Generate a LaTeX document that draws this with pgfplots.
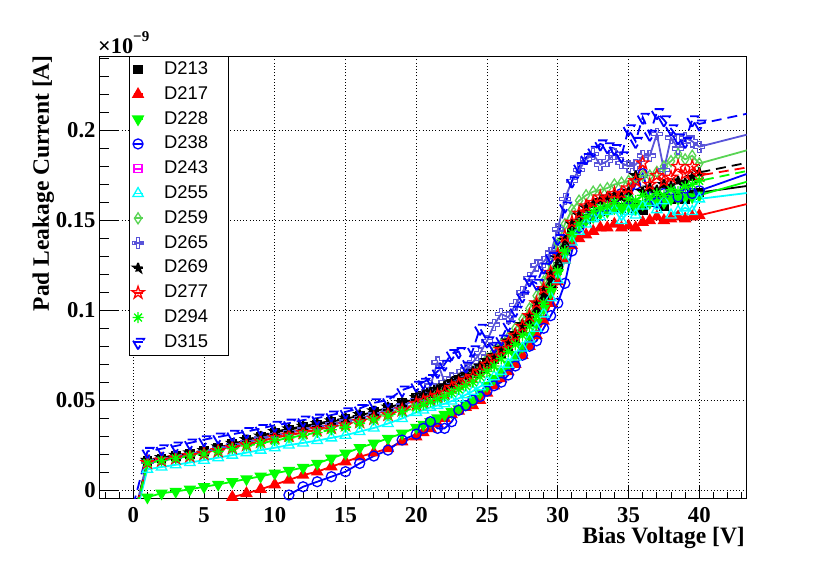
\documentclass[border=0pt]{standalone}
\usepackage{fontspec}
\setmainfont{Liberation Serif}
\newfontfamily\sansleg{Liberation Sans}
\usepackage{pgfplots}
\pgfplotsset{compat=1.18}
\usetikzlibrary{plotmarks}
\definecolor{rgreen}{RGB}{0,255,0}
\definecolor{rblue}{RGB}{0,0,255}
\definecolor{rred}{RGB}{255,0,0}
\definecolor{rmag}{RGB}{255,0,255}
\definecolor{rcyan}{RGB}{0,255,255}
\definecolor{rc8}{RGB}{89,212,84}
\definecolor{rc9}{RGB}{89,84,217}
\pgfdeclareplotmark{ocross}{%
 \pgfpathmoveto{\pgfqpoint{-0.3\pgfplotmarksize}{\pgfplotmarksize}}%
 \pgfpathlineto{\pgfqpoint{0.3\pgfplotmarksize}{\pgfplotmarksize}}%
 \pgfpathlineto{\pgfqpoint{0.3\pgfplotmarksize}{0.3\pgfplotmarksize}}%
 \pgfpathlineto{\pgfqpoint{\pgfplotmarksize}{0.3\pgfplotmarksize}}%
 \pgfpathlineto{\pgfqpoint{\pgfplotmarksize}{-0.3\pgfplotmarksize}}%
 \pgfpathlineto{\pgfqpoint{0.3\pgfplotmarksize}{-0.3\pgfplotmarksize}}%
 \pgfpathlineto{\pgfqpoint{0.3\pgfplotmarksize}{-\pgfplotmarksize}}%
 \pgfpathlineto{\pgfqpoint{-0.3\pgfplotmarksize}{-\pgfplotmarksize}}%
 \pgfpathlineto{\pgfqpoint{-0.3\pgfplotmarksize}{-0.3\pgfplotmarksize}}%
 \pgfpathlineto{\pgfqpoint{-\pgfplotmarksize}{-0.3\pgfplotmarksize}}%
 \pgfpathlineto{\pgfqpoint{-\pgfplotmarksize}{0.3\pgfplotmarksize}}%
 \pgfpathlineto{\pgfqpoint{-0.3\pgfplotmarksize}{0.3\pgfplotmarksize}}%
 \pgfpathclose\pgfusepathqstroke}
\def\starpath{%
 \pgfpathmoveto{\pgfqpoint{0pt}{\pgfplotmarksize}}%
 \pgfpathlineto{\pgfqpoint{-0.2245\pgfplotmarksize}{0.309\pgfplotmarksize}}%
 \pgfpathlineto{\pgfqpoint{-0.9511\pgfplotmarksize}{0.309\pgfplotmarksize}}%
 \pgfpathlineto{\pgfqpoint{-0.3633\pgfplotmarksize}{-0.118\pgfplotmarksize}}%
 \pgfpathlineto{\pgfqpoint{-0.5878\pgfplotmarksize}{-0.809\pgfplotmarksize}}%
 \pgfpathlineto{\pgfqpoint{0pt}{-0.382\pgfplotmarksize}}%
 \pgfpathlineto{\pgfqpoint{0.5878\pgfplotmarksize}{-0.809\pgfplotmarksize}}%
 \pgfpathlineto{\pgfqpoint{0.3633\pgfplotmarksize}{-0.118\pgfplotmarksize}}%
 \pgfpathlineto{\pgfqpoint{0.9511\pgfplotmarksize}{0.309\pgfplotmarksize}}%
 \pgfpathlineto{\pgfqpoint{0.2245\pgfplotmarksize}{0.309\pgfplotmarksize}}%
 \pgfpathclose}
\pgfdeclareplotmark{fstar}{\starpath\pgfusepathqfillstroke}
\pgfdeclareplotmark{ostar}{\starpath\pgfusepathqstroke}
\pgfdeclareplotmark{rast}{%
 \pgfpathmoveto{\pgfqpoint{-\pgfplotmarksize}{0pt}}\pgfpathlineto{\pgfqpoint{\pgfplotmarksize}{0pt}}%
 \pgfpathmoveto{\pgfqpoint{0pt}{-\pgfplotmarksize}}\pgfpathlineto{\pgfqpoint{0pt}{\pgfplotmarksize}}%
 \pgfpathmoveto{\pgfqpoint{-0.707\pgfplotmarksize}{-0.707\pgfplotmarksize}}\pgfpathlineto{\pgfqpoint{0.707\pgfplotmarksize}{0.707\pgfplotmarksize}}%
 \pgfpathmoveto{\pgfqpoint{-0.707\pgfplotmarksize}{0.707\pgfplotmarksize}}\pgfpathlineto{\pgfqpoint{0.707\pgfplotmarksize}{-0.707\pgfplotmarksize}}%
 \pgfusepathqstroke}
\pgfdeclareplotmark{ndiam}{%
 \pgfpathmoveto{\pgfqpoint{0pt}{\pgfplotmarksize}}%
 \pgfpathlineto{\pgfqpoint{0.65\pgfplotmarksize}{0pt}}%
 \pgfpathlineto{\pgfqpoint{0pt}{-\pgfplotmarksize}}%
 \pgfpathlineto{\pgfqpoint{-0.65\pgfplotmarksize}{0pt}}%
 \pgfpathclose\pgfusepathqstroke}
\newcommand\legtxt[1]{\makebox[62bp][l]{#1}}
\pgfplotsset{
 sl/.style={solid, line width=1.8bp},
 dl/.style={dash pattern=on 10bp off 6bp, line width=1.8bp},
 mk/.style={mark options={solid, line width=1.3bp}},
}
\begin{document}
\begin{tikzpicture}
\path[use as bounding box] (-99.3bp,-68.3bp) rectangle (730.7bp,498.7bp);
\begin{axis}[
  scale only axis, width=647.4bp, height=442.7bp,
  xmin=-2.4, xmax=43.35, ymin=-0.00484, ymax=0.2415,
  axis line style={line width=0.9bp},
  tick style={black, line width=0.9bp},
  major tick length=19bp, minor tick length=10bp,
  xtick style={/pgfplots/major tick length=14bp, /pgfplots/minor tick length=7bp},
  tick pos=left,
  xtick={0,5,...,40}, ytick={0,0.05,0.1,0.15,0.2},
  minor xtick={-2,-1,...,43},
  minor ytick={0.01,0.02,...,0.245},
  grid=major,
  major grid style={black, line width=0.7bp, dash pattern=on 0.9bp off 2.3bp},
  scaled y ticks=false,
  /pgf/number format/assume math mode=true,
  xticklabel style={font=\fontsize{22.7bp}{24bp}\selectfont\bfseries, inner sep=0pt, yshift=-8.5bp},
  yticklabel style={font=\fontsize{22.7bp}{24bp}\selectfont\bfseries, inner sep=0pt, xshift=-3.5bp,
     /pgf/number format/fixed, /pgf/number format/precision=2},
  legend style={at={(rel axis cs:0.0459,1)}, anchor=north west, draw=black, line width=0.9bp,
     inner xsep=2.4bp, inner ysep=4.1bp, row sep=6.8bp,
     font=\sansleg\fontsize{18.4bp}{20bp}\selectfont,
     nodes={inner sep=0pt, text height=14bp, text depth=4bp}},
  legend cell align=left,
  legend image code/.code={%
    \draw[#1,mark=none,solid] (-4.5bp,0bp) -- (4.5bp,0bp);
    \draw[#1] plot coordinates {(0bp,0bp)};
    \pgfpathrectangle{\pgfqpoint{-5bp}{-5bp}}{\pgfqpoint{31bp}{10bp}}\pgfusepath{use as bounding box};},
]
% D213
\addplot[black, sl, mk, mark=square*, mark size=4bp, mark options={fill=black}] coordinates {
(0,-0.018)(1,0.016)(2,0.0175)(3,0.0188)(4,0.0202)(5,0.0215)(6,0.0236)(7,0.0256)(8,0.0277)(9,0.0298)(10,0.032)(11,0.0335)(12,0.035)(13,0.0365)(14,0.038)(15,0.0395)(16,0.0415)(17,0.0435)(18,0.0458)(19,0.0482)(20,0.051)
(20.5,0.0525)(21,0.054)(21.5,0.0555)(22,0.057)(22.5,0.059)(23,0.061)(23.5,0.063)(24,0.065)(24.5,0.067)(25,0.070)(25.5,0.073)(26,0.076)(26.5,0.080)(27,0.084)(27.5,0.089)(28,0.094)(28.5,0.100)(29,0.107)(29.5,0.115)(30,0.124)(30.5,0.134)(31,0.143)(31.5,0.148)(32,0.151)(32.5,0.153)(33,0.155)(33.5,0.156)(34,0.158)(34.5,0.157)(35,0.159)(35.5,0.157)(36,0.156)(36.5,0.160)(37,0.161)(37.5,0.158)(38,0.162)(38.5,0.163)(39,0.162)(39.5,0.164)(40,0.1655)(50,0.1764)};
\addlegendentry{\legtxt{D213}}
% D217
\addplot[rred, sl, mk, mark=triangle*, mark size=5.5bp, mark options={fill=rred}] coordinates {
(7,-0.004)(8,-0.0019)(9,0.0004)(10,0.003)(11,0.0056)(12,0.0083)(13,0.0102)(14,0.013)(15,0.0157)(16,0.0185)(17,0.0207)(18,0.0231)(19,0.0269)(20,0.0296)(20.5,0.032)(21,0.0343)(21.5,0.037)(22,0.040)(22.5,0.042)(23,0.044)(23.5,0.046)(24,0.047)(24.5,0.050)(25,0.054)(25.5,0.058)(26,0.062)(26.5,0.066)(27,0.070)(27.5,0.075)(28,0.080)(28.5,0.086)(29,0.094)(29.5,0.104)(30,0.116)(30.5,0.128)(31,0.136)(31.5,0.140)(32,0.142)(32.5,0.144)(33,0.146)(33.5,0.146)(34,0.148)(34.5,0.146)(35,0.147)(35.5,0.146)(36,0.149)(36.5,0.150)(37,0.152)(37.5,0.150)(38,0.151)(38.5,0.152)(39,0.151)(39.5,0.152)(40,0.1528)(50,0.1716)};
\addlegendentry{\legtxt{D217}}
% D228
\addplot[rgreen, sl, mk, mark=triangle*, mark size=5.5bp, mark options={fill=rgreen, rotate=180}] coordinates {
(1,-0.004)(2,-0.0018)(3,-0.0008)(4,0.0004)(5,0.0018)(6,0.0031)(7,0.0046)(8,0.0061)(9,0.0076)(10,0.0093)(11,0.0108)(12,0.0125)(13,0.0148)(14,0.0176)(15,0.0204)(16,0.0235)(17,0.026)(18,0.0287)(19,0.0315)(20,0.0348)(20.5,0.0365)(21,0.038)(21.5,0.040)(22,0.042)(22.5,0.0435)(23,0.045)(23.5,0.0475)(24,0.050)(24.5,0.054)(25,0.058)(25.5,0.062)(26,0.066)(26.5,0.070)(27,0.075)(27.5,0.080)(28,0.086)(28.5,0.093)(29,0.101)(29.5,0.110)(30,0.121)(30.5,0.132)(31,0.141)(31.5,0.147)(32,0.150)(32.5,0.152)(33,0.154)(33.5,0.155)(34,0.157)(34.5,0.156)(35,0.158)(35.5,0.157)(36,0.159)(36.5,0.160)(37,0.161)(37.5,0.160)(38,0.162)(38.5,0.162)(39,0.163)(39.5,0.163)(40,0.164)(50,0.1864)};
\addlegendentry{\legtxt{D228}}
% D238
\addplot[rblue, sl, mk, mark=o, mark size=5bp] coordinates {
(11,-0.0028)(12,0.0018)(13,0.0046)(14,0.0074)(15,0.0102)(16,0.0148)(17,0.0189)(18,0.0222)(19,0.0278)(20,0.0311)(20.5,0.0343)(21,0.038)(21.5,0.0343)(22,0.0343)(22.5,0.038)(23,0.0444)(23.5,0.047)(24,0.050)(24.5,0.052)(25,0.055)(25.5,0.058)(26,0.060)(26.5,0.064)(27,0.069)(27.5,0.075)(28,0.080)(28.5,0.083)(29,0.090)(29.5,0.097)(30,0.104)(30.5,0.115)(31,0.133)(31.5,0.146)(32,0.152)(32.5,0.155)(33,0.157)(33.5,0.158)(34,0.162)(34.5,0.165)(35,0.162)(35.5,0.170)(36,0.176)(36.5,0.163)(37,0.160)(37.5,0.165)(38,0.167)(38.5,0.163)(39,0.168)(39.5,0.165)(40,0.1665)(50,0.1944)};
\addlegendentry{\legtxt{D238}}
% D243 (hidden under the other curves in the reference)
\addlegendimage{rmag, sl, mk, mark=square, mark size=4bp}
\addlegendentry{\legtxt{D243}}
% D255
\addplot[rcyan, sl, mk, mark=triangle, mark size=6bp] coordinates {
(0,-0.02)(1,0.0115)(2,0.0128)(3,0.014)(4,0.0153)(5,0.0166)(6,0.018)(7,0.0194)(8,0.0208)(9,0.0222)(10,0.0235)(11,0.025)(12,0.0262)(13,0.0275)(14,0.029)(15,0.0305)(16,0.0325)(17,0.0345)(18,0.037)(19,0.0398)(20,0.0432)(20.5,0.0445)(21,0.046)(21.5,0.047)(22,0.048)(22.5,0.0495)(23,0.051)(23.5,0.053)(24,0.055)(24.5,0.0575)(25,0.060)(25.5,0.063)(26,0.066)(26.5,0.070)(27,0.074)(27.5,0.079)(28,0.084)(28.5,0.090)(29,0.098)(29.5,0.107)(30,0.117)(30.5,0.128)(31,0.138)(31.5,0.144)(32,0.148)(32.5,0.151)(33,0.152)(33.5,0.155)(34,0.156)(34.5,0.150)(35,0.155)(35.5,0.153)(36,0.158)(36.5,0.160)(37,0.156)(37.5,0.161)(38,0.153)(38.5,0.155)(39,0.157)(39.5,0.155)(40,0.162)(50,0.1717)};
\addlegendentry{\legtxt{D255}}
% D259
\addplot[rc8, sl, mk, mark=ndiam, mark size=5.5bp] coordinates {
(0,-0.018)(1,0.0155)(2,0.017)(3,0.0182)(4,0.0195)(5,0.0208)(6,0.0223)(7,0.024)(8,0.0257)(9,0.0275)(10,0.029)(11,0.0305)(12,0.032)(13,0.0335)(14,0.035)(15,0.0365)(16,0.0385)(17,0.0405)(18,0.043)(19,0.0455)(20,0.048)(20.5,0.050)(21,0.052)(21.5,0.054)(22,0.056)(22.5,0.058)(23,0.060)(23.5,0.063)(24,0.066)(24.5,0.069)(25,0.073)(25.5,0.077)(26,0.081)(26.5,0.085)(27,0.090)(27.5,0.095)(28,0.101)(28.5,0.108)(29,0.116)(29.5,0.126)(30,0.137)(30.5,0.148)(31,0.156)(31.5,0.161)(32,0.164)(32.5,0.166)(33,0.167)(33.5,0.168)(34,0.170)(34.5,0.171)(35,0.172)(35.5,0.174)(36,0.175)(36.5,0.175)(37,0.177)(37.5,0.180)(38,0.183)(38.5,0.187)(39,0.184)(39.5,0.186)(40,0.1817)(50,0.2035)};
\addlegendentry{\legtxt{D259}}
% D265
\addplot[rc9, sl, mk, mark=ocross, mark size=5.5bp] coordinates {
(0,-0.016)(1,0.016)(2,0.0173)(3,0.0186)(4,0.020)(5,0.0213)(6,0.023)(7,0.0248)(8,0.0266)(9,0.0285)(10,0.0305)(11,0.032)(12,0.0335)(13,0.035)(14,0.0365)(15,0.038)(16,0.040)(17,0.042)(18,0.0445)(19,0.047)(20,0.050)(20.5,0.053)(21,0.058)(21.5,0.071)(22,0.060)(22.5,0.062)(23,0.064)(23.5,0.067)(24,0.071)(24.5,0.076)(25,0.083)(25.5,0.092)(26,0.098)(26.5,0.096)(27,0.103)(27.5,0.110)(28,0.118)(28.5,0.125)(29,0.127)(29.5,0.132)(30,0.145)(30.5,0.162)(31,0.172)(31.5,0.178)(32,0.184)(32.5,0.187)(33,0.181)(33.5,0.183)(34,0.187)(34.5,0.182)(35,0.180)(35.5,0.181)(36,0.186)(36.5,0.186)(37,0.198)(37.5,0.178)(38,0.196)(38.5,0.190)(39,0.196)(39.5,0.194)(40,0.191)(50,0.211)};
\addlegendentry{\legtxt{D265}}
% D269
\addplot[black, dl, mk, mark=fstar, mark size=5bp, mark options={fill=black}] coordinates {
(0,-0.017)(1,0.0165)(2,0.018)(3,0.0193)(4,0.0207)(5,0.022)(6,0.024)(7,0.026)(8,0.028)(9,0.030)(10,0.0325)(11,0.034)(12,0.0355)(13,0.037)(14,0.0385)(15,0.040)(16,0.042)(17,0.044)(18,0.0462)(19,0.0487)(20,0.0515)(20.5,0.053)(21,0.0545)(21.5,0.056)(22,0.058)(22.5,0.060)(23,0.062)(23.5,0.064)(24,0.066)(24.5,0.069)(25,0.072)(25.5,0.075)(26,0.079)(26.5,0.083)(27,0.087)(27.5,0.092)(28,0.097)(28.5,0.104)(29,0.111)(29.5,0.120)(30,0.129)(30.5,0.139)(31,0.148)(31.5,0.153)(32,0.157)(32.5,0.159)(33,0.161)(33.5,0.163)(34,0.164)(34.5,0.163)(35,0.166)(35.5,0.175)(36,0.166)(36.5,0.168)(37,0.167)(37.5,0.170)(38,0.169)(38.5,0.172)(39,0.171)(39.5,0.174)(40,0.1767)(50,0.1927)};
\addlegendentry{\legtxt{D269}}
% D277
\addplot[rred, dl, mk, mark=ostar, mark size=6.5bp] coordinates {
(0,-0.017)(1,0.0152)(2,0.0165)(3,0.0178)(4,0.019)(5,0.0202)(6,0.0218)(7,0.0235)(8,0.0252)(9,0.027)(10,0.0292)(11,0.0305)(12,0.032)(13,0.0335)(14,0.0348)(15,0.0362)(16,0.038)(17,0.0398)(18,0.042)(19,0.0445)(20,0.048)(20.5,0.0495)(21,0.051)(21.5,0.0525)(22,0.054)(22.5,0.057)(23,0.059)(23.5,0.061)(24,0.063)(24.5,0.066)(25,0.070)(25.5,0.074)(26,0.078)(26.5,0.082)(27,0.086)(27.5,0.091)(28,0.097)(28.5,0.104)(29,0.112)(29.5,0.121)(30,0.131)(30.5,0.141)(31,0.149)(31.5,0.154)(32,0.158)(32.5,0.160)(33,0.163)(33.5,0.162)(34,0.165)(34.5,0.165)(35,0.168)(35.5,0.172)(36,0.182)(36.5,0.170)(37,0.175)(37.5,0.172)(38,0.174)(38.5,0.180)(39,0.176)(39.5,0.180)(40,0.175)(50,0.1883)};
\addlegendentry{\legtxt{D277}}
% D294
\addplot[rgreen, dl, mk, mark=rast, mark size=5.5bp] coordinates {
(0,-0.018)(1,0.015)(2,0.0163)(3,0.0176)(4,0.0189)(5,0.020)(6,0.0215)(7,0.023)(8,0.0245)(9,0.026)(10,0.0275)(11,0.029)(12,0.0305)(13,0.032)(14,0.0335)(15,0.035)(16,0.037)(17,0.039)(18,0.0412)(19,0.0435)(20,0.046)(20.5,0.0475)(21,0.049)(21.5,0.0505)(22,0.052)(22.5,0.054)(23,0.056)(23.5,0.058)(24,0.060)(24.5,0.063)(25,0.066)(25.5,0.069)(26,0.073)(26.5,0.077)(27,0.081)(27.5,0.086)(28,0.091)(28.5,0.097)(29,0.104)(29.5,0.112)(30,0.122)(30.5,0.133)(31,0.143)(31.5,0.148)(32,0.152)(32.5,0.155)(33,0.157)(33.5,0.158)(34,0.160)(34.5,0.158)(35,0.162)(35.5,0.161)(36,0.164)(36.5,0.163)(37,0.165)(37.5,0.164)(38,0.167)(38.5,0.166)(39,0.169)(39.5,0.170)(40,0.172)(50,0.1884)};
\addlegendentry{\legtxt{D294}}
% D315
\addplot[rblue, dl, mk, mark=triangle, mark size=7bp, mark options={rotate=180}] coordinates {
(0,-0.0085)(1,0.0215)(2,0.023)(3,0.0245)(4,0.0262)(5,0.028)(6,0.0295)(7,0.031)(8,0.0325)(9,0.0342)(10,0.036)(11,0.0372)(12,0.0389)(13,0.040)(14,0.0417)(15,0.0435)(16,0.0454)(17,0.0485)(18,0.050)(19,0.0556)(20,0.0583)(20.5,0.060)(21,0.062)(21.5,0.066)(22,0.070)(22.5,0.076)(23,0.077)(23.5,0.069)(24,0.078)(24.5,0.090)(25,0.083)(25.5,0.080)(26,0.084)(26.5,0.092)(27,0.100)(27.5,0.108)(28,0.117)(28.5,0.115)(29,0.124)(29.5,0.130)(30,0.140)(30.5,0.158)(31,0.172)(31.5,0.180)(32,0.185)(32.5,0.189)(33,0.1926)(33.5,0.191)(34,0.190)(34.5,0.186)(35,0.201)(35.5,0.194)(36,0.2074)(36.5,0.198)(37,0.210)(37.5,0.206)(38,0.201)(38.5,0.196)(39,0.194)(39.5,0.206)(40,0.2037)(50,0.2206)};
\addlegendentry{\legtxt{D315}}
\end{axis}
\node[rotate=90, anchor=base east, inner sep=0pt, font=\fontsize{23.5bp}{26bp}\selectfont\bfseries] at (-50.3bp,443.7bp) {Pad Leakage Current [A]};
\node[anchor=base east, inner sep=0pt, font=\fontsize{23.5bp}{26bp}\selectfont\bfseries] at (645.7bp,-44.6bp) {Bias Voltage [V]};
\node[anchor=base west, inner sep=0pt, font=\fontsize{22.3bp}{24bp}\selectfont\bfseries] at (-1.3bp,444.7bp) {×10\raisebox{12.3bp}{\fontsize{15bp}{16bp}\selectfont −9}};
\end{tikzpicture}
\end{document}
